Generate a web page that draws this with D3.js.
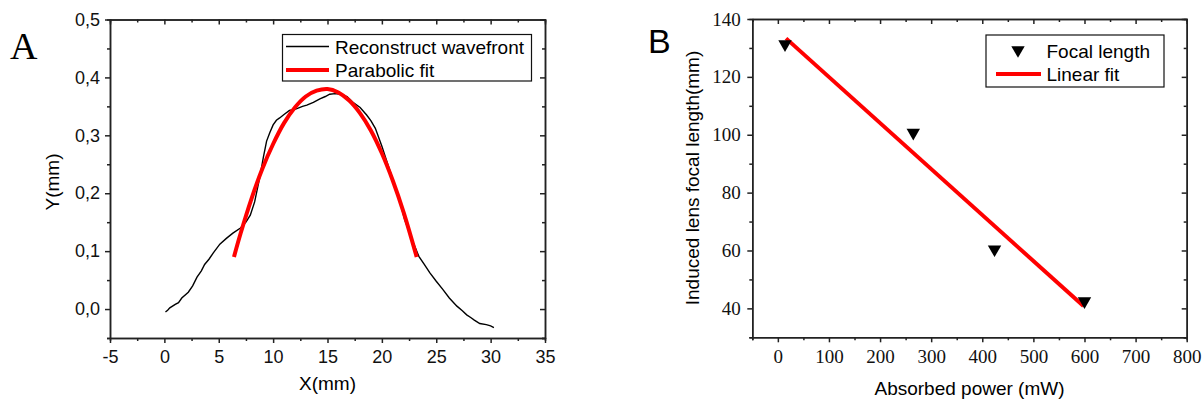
<!DOCTYPE html>
<html>
<head>
<meta charset="utf-8">
<script src="https://cdn.jsdelivr.net/npm/d3@7"></script>
<style>
  body { margin: 0; background: #fff; }
  svg { display: block; }
</style>
</head>
<body>
<div id="chart"></div>
<script>
// panel A: reconstructed wavefront
const waveX = [0.1, 0.3, 0.5, 1.0, 1.3, 1.6, 2.2, 2.6, 3.0, 3.4, 3.7, 4.1, 4.5, 5.1, 5.7, 6.3, 7.0, 7.5, 7.9, 8.3, 8.8, 9.1, 9.4, 9.7, 10.0, 10.3, 10.6, 11.0, 11.5, 12.0, 12.3, 12.7, 13.1, 13.7, 14.3, 14.8, 15.2, 15.7, 16.2, 16.8, 17.4, 18.0, 18.6, 19.0, 19.4, 20.0, 20.7, 21.5, 22.1, 22.9, 23.4, 23.9, 24.4, 25.0, 25.6, 26.2, 26.9, 27.4, 27.8, 28.2, 28.5, 29.0, 29.6, 30.0, 30.3];
const waveY = [-0.005, -0.002, 0.002, 0.008, 0.011, 0.019, 0.029, 0.040, 0.055, 0.066, 0.077, 0.086, 0.097, 0.112, 0.122, 0.131, 0.140, 0.150, 0.162, 0.185, 0.230, 0.262, 0.290, 0.305, 0.318, 0.326, 0.330, 0.336, 0.343, 0.345, 0.347, 0.350, 0.352, 0.357, 0.363, 0.367, 0.371, 0.372, 0.371, 0.367, 0.356, 0.348, 0.335, 0.325, 0.312, 0.281, 0.241, 0.197, 0.154, 0.114, 0.091, 0.077, 0.063, 0.048, 0.034, 0.019, 0.005, -0.003, -0.010, -0.015, -0.019, -0.025, -0.027, -0.029, -0.032];

// panel A: parabolic fit
const fitAX = [6.4, 7, 8, 9, 10, 11, 12, 13, 14, 15, 16, 17, 18, 19, 20, 21, 22, 23.2];
const fitAY = [0.09, 0.13, 0.19, 0.242, 0.285, 0.321, 0.348, 0.367, 0.377, 0.38, 0.374, 0.36, 0.338, 0.308, 0.269, 0.222, 0.167, 0.09];

// panel B: focal length vs absorbed power
const powerMW = [14, 265, 424, 600];
const focalMM = [131.3, 100.7, 60.4, 42.5];

// panel B: linear fit end points
const fitBX = [16, 598];
const fitBY = [133.3, 40.8];

const xTicksA = [-5, 0, 5, 10, 15, 20, 25, 30, 35];
const yTicksA = [0.0, 0.1, 0.2, 0.3, 0.4, 0.5];
const xTicksB = [0, 100, 200, 300, 400, 500, 600, 700, 800];
const yTicksB = [40, 60, 80, 100, 120, 140];

const W = 1204, H = 402;
const svg = d3.select("#chart").append("svg").attr("width", W).attr("height", H);

const axisCol = "#222";
const sansF = "Liberation Sans, Arial, sans-serif";
const serifF = "Liberation Serif, Times New Roman, serif";
const commaFmt = v => v.toFixed(1).replace(".", ",");
const intFmt = v => String(v);   // plain hyphen for negatives, as in the picture

function frame(g, x, y, xt, yt, xMinor, yMinor, fmtX, fmtY, font, fsize, padX, padY) {
  const [x0, x1] = x.range(), [y1, y0] = y.range();
  // minor ticks
  g.append("g").attr("transform", `translate(0,${y1})`)
    .call(d3.axisBottom(x).tickValues(xMinor).tickSize(3).tickFormat(""));
  g.append("g").attr("transform", `translate(${x0},0)`)
    .call(d3.axisLeft(y).tickValues(yMinor).tickSize(3).tickFormat(""));
  g.append("g").attr("transform", `translate(0,${y0})`)
    .call(d3.axisTop(x).tickValues(xMinor).tickSize(-3).tickFormat(""));
  g.append("g").attr("transform", `translate(${x1},0)`)
    .call(d3.axisRight(y).tickValues(yMinor).tickSize(-3).tickFormat(""));
  // major ticks
  g.append("g").attr("transform", `translate(0,${y1})`)
    .call(d3.axisBottom(x).tickValues(xt).tickSize(5).tickSizeOuter(0).tickPadding(padX).tickFormat(fmtX));
  g.append("g").attr("transform", `translate(${x0},0)`)
    .call(d3.axisLeft(y).tickValues(yt).tickSize(5).tickSizeOuter(0).tickPadding(padY).tickFormat(fmtY));
  g.append("g").attr("transform", `translate(0,${y0})`)
    .call(d3.axisTop(x).tickValues(xt).tickSize(-5).tickSizeOuter(0).tickFormat(""));
  g.append("g").attr("transform", `translate(${x1},0)`)
    .call(d3.axisRight(y).tickValues(yt).tickSize(-5).tickSizeOuter(0).tickFormat(""));
  g.selectAll(".domain, .tick line").attr("stroke", axisCol).attr("stroke-width", 1.5);
  g.selectAll(".tick text").attr("font-family", font).attr("font-size", fsize).attr("fill", "#111");
}

// ---------- panel A ----------
const xA = d3.scaleLinear().domain([-5, 35]).range([110, 545]);
const yA = d3.scaleLinear().domain([-0.05, 0.5]).range([338, 19.5]);
const gA = svg.append("g");

const xMinorA = [-2.5, 2.5, 7.5, 12.5, 17.5, 22.5, 27.5, 32.5];
const yMinorA = [-0.05, 0.05, 0.15, 0.25, 0.35, 0.45];
frame(gA, xA, yA, xTicksA, yTicksA, xMinorA, yMinorA, intFmt, commaFmt, sansF, 18, 7, 5);

gA.append("path")
  .datum(d3.zip(waveX, waveY))
  .attr("d", d3.line().x(d => xA(d[0])).y(d => yA(d[1])))
  .attr("fill", "none").attr("stroke", "#000").attr("stroke-width", 1.4);
gA.append("path")
  .datum(d3.zip(fitAX, fitAY))
  .attr("d", d3.line().x(d => xA(d[0])).y(d => yA(d[1])).curve(d3.curveCatmullRom))
  .attr("fill", "none").attr("stroke", "#ff0000").attr("stroke-width", 4);

gA.append("text").attr("x", 327.5).attr("y", 390).attr("text-anchor", "middle")
  .attr("font-family", sansF).attr("font-size", 19).text("X(mm)");
gA.append("text").attr("transform", "translate(59,182) rotate(-90)").attr("text-anchor", "middle")
  .attr("font-family", sansF).attr("font-size", 19).text("Y(mm)");
gA.append("text").attr("x", 10).attr("y", 59).attr("font-family", serifF)
  .attr("font-size", 38).text("A");

// legend A
const legA = gA.append("g");
legA.append("rect").attr("x", 282.5).attr("y", 34.5).attr("width", 249).attr("height", 46.5)
  .attr("fill", "#fff").attr("stroke", "#111").attr("stroke-width", 1.2);
legA.append("line").attr("x1", 286).attr("x2", 329).attr("y1", 46.5).attr("y2", 46.5)
  .attr("stroke", "#000").attr("stroke-width", 1.5);
legA.append("line").attr("x1", 286).attr("x2", 329).attr("y1", 70).attr("y2", 70)
  .attr("stroke", "#ff0000").attr("stroke-width", 4);
legA.selectAll("text").data(["Reconstruct wavefront", "Parabolic fit"]).join("text")
  .attr("x", 335).attr("y", (d, i) => 54 + i * 23)
  .attr("font-family", sansF).attr("font-size", 19).text(d => d);

// ---------- panel B ----------
const xB = d3.scaleLinear().domain([-50, 800]).range([752.3, 1186.7]);
const yB = d3.scaleLinear().domain([30, 140]).range([337.3, 19]);
const gB = svg.append("g");

const xMinorB = d3.range(-50, 801, 100);
const yMinorB = d3.range(30, 141, 20);
frame(gB, xB, yB, xTicksB, yTicksB, xMinorB, yMinorB, intFmt, intFmt, serifF, 19, 7, 6.5);

gB.append("path")
  .datum(d3.zip(fitBX, fitBY))
  .attr("d", d3.line().x(d => xB(d[0])).y(d => yB(d[1])))
  .attr("fill", "none").attr("stroke", "#ff0000").attr("stroke-width", 4);

const tri = d3.symbol().type(d3.symbolTriangle).size(78);
gB.selectAll("path.pt").data(d3.zip(powerMW, focalMM)).join("path")
  .attr("class", "pt")
  .attr("d", tri)
  .attr("transform", d => `translate(${xB(d[0])},${yB(d[1])}) rotate(180)`)
  .attr("fill", "#000");

gB.append("text").attr("x", 969.5).attr("y", 395).attr("text-anchor", "middle")
  .attr("font-family", sansF).attr("font-size", 19).text("Absorbed power (mW)");
gB.append("text").attr("transform", "translate(699,178) rotate(-90)").attr("text-anchor", "middle")
  .attr("font-family", sansF).attr("font-size", 19).text("Induced lens focal length(mm)");
gB.append("text").attr("x", 648).attr("y", 53).attr("font-family", sansF)
  .attr("font-size", 34).text("B");

// legend B
const legB = gB.append("g");
legB.append("rect").attr("x", 986).attr("y", 35).attr("width", 178).attr("height", 52)
  .attr("fill", "#fff").attr("stroke", "#111").attr("stroke-width", 1.2);
legB.append("path").attr("d", tri).attr("transform", "translate(1018,50) rotate(180)").attr("fill", "#000");
legB.append("line").attr("x1", 996).attr("x2", 1041).attr("y1", 74).attr("y2", 74)
  .attr("stroke", "#ff0000").attr("stroke-width", 4);
legB.selectAll("text").data(["Focal length", "Linear fit"]).join("text")
  .attr("x", 1046.5).attr("y", (d, i) => 57.5 + i * 23.3)
  .attr("font-family", sansF).attr("font-size", 19).text(d => d);
</script>
</body>
</html>
